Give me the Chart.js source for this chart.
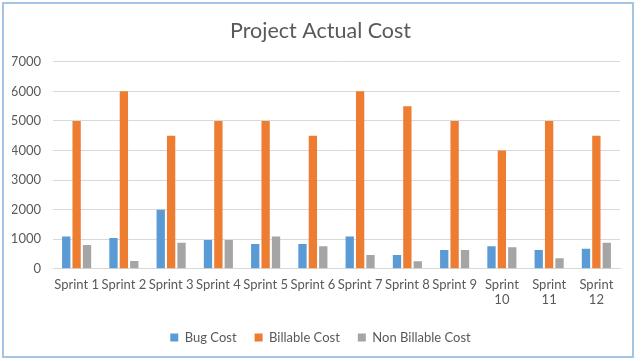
<!DOCTYPE html>
<html>
<head>
<meta charset="utf-8">
<script src="https://cdn.jsdelivr.net/npm/chart.js@4"></script>
<style>
  html, body { margin: 0; padding: 0; background: #ffffff; }
  #wrap { width: 641px; height: 361px; position: relative; }
</style>
</head>
<body>
<div id="wrap"><canvas id="c" width="641" height="361"></canvas></div>
<script>
const categories = [
  'Sprint 1', 'Sprint 2', 'Sprint 3', 'Sprint 4', 'Sprint 5', 'Sprint 6',
  'Sprint 7', 'Sprint 8', 'Sprint 9', ['Sprint', '10'], ['Sprint', '11'], ['Sprint', '12']
];
const bugCost        = [1090, 1045, 2000, 970, 840, 840, 1090, 470, 635, 760, 635, 680];
const billableCost   = [5000, 6000, 4500, 5000, 5000, 4500, 6000, 5500, 5000, 4000, 5000, 4500];
const nonBillableCost = [805, 260, 885, 975, 1090, 765, 470, 255, 635, 725, 355, 885];
const yTicks = [0, 1000, 2000, 3000, 4000, 5000, 6000, 7000];

const FONT = 'Lato, "Open Sans", sans-serif';
const TXT = '#595959';

const borderPlugin = {
  id: 'frame',
  afterDraw(chart) {
    const ctx = chart.ctx;
    ctx.save();
    ctx.strokeStyle = '#a4c4e4';
    ctx.lineWidth = 2;
    ctx.strokeRect(3, 3, 630, 354);
    ctx.restore();
  }
};

new Chart(document.getElementById('c'), {
  type: 'bar',
  data: {
    labels: categories,
    datasets: [
      { label: 'Bug Cost', data: bugCost, backgroundColor: '#5b9bd5' },
      { label: 'Billable Cost', data: billableCost, backgroundColor: '#ed7d31' },
      { label: 'Non Billable Cost', data: nonBillableCost, backgroundColor: '#a5a5a5' }
    ]
  },
  options: {
    responsive: false,
    animation: false,
    devicePixelRatio: 1,
    datasets: {
      bar: { categoryPercentage: 0.66, barPercentage: 0.8 }
    },
    layout: { padding: { left: 12, right: 12, top: 8, bottom: 7 } },
    plugins: {
      title: {
        display: true,
        text: 'Project Actual Cost',
        color: TXT,
        font: { family: FONT, size: 21.5, weight: 'normal' },
        padding: { top: 10, bottom: 18 }
      },
      legend: {
        position: 'bottom',
        labels: {
          color: TXT,
          font: { family: FONT, size: 13 },
          boxWidth: 8,
          boxHeight: 8,
          padding: 18
        }
      },
      tooltip: { enabled: false }
    },
    scales: {
      x: {
        grid: { display: false },
        border: { display: true, color: '#d9d9d9', width: 1 },
        afterFit(axis) { axis.height += 5; },
        ticks: {
          color: TXT,
          font: { family: FONT, size: 13 },
          autoSkip: false,
          maxRotation: 0,
          minRotation: 0,
          padding: 0
        }
      },
      y: {
        min: 0,
        max: 7000,
        afterBuildTicks(axis) { axis.ticks = yTicks.map(v => ({ value: v })); },
        afterFit(axis) { axis.width = 41; },
        grid: { color: '#d9d9d9', drawTicks: false },
        border: { display: false },
        ticks: {
          color: TXT,
          font: { family: FONT, size: 13 },
          padding: 12,
          callback: (v) => String(v)
        }
      },
      ySpacer: {
        type: 'linear',
        position: 'right',
        display: true,
        grid: { display: false, drawTicks: false },
        border: { display: false },
        ticks: { display: false },
        afterFit(axis) { axis.width = 9; }
      }
    }
  },
  plugins: [borderPlugin]
});
</script>
</body>
</html>
